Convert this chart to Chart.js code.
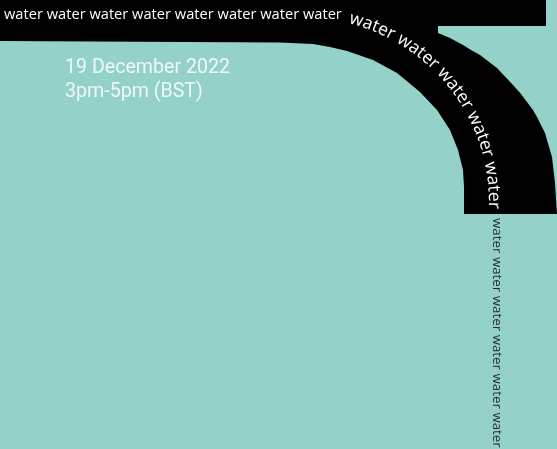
<!DOCTYPE html>
<html>
<head>
<meta charset="utf-8">
<script src="https://cdn.jsdelivr.net/npm/chart.js@4.4.0/dist/chart.umd.min.js"></script>
<style>
html, body { margin: 0; padding: 0; background: #94d2c9; overflow: hidden; }
#wrap { width: 557px; height: 449px; position: relative; }
</style>
</head>
<body>
<div id="wrap"><canvas id="poster"></canvas></div>
<script>
// outline of the black band (x right, y down)
const bandX = [0, 546, 546, 438, 438, 450, 463, 471, 480, 497, 513, 521, 527, 533, 537, 545, 552, 555, 557,
               464, 464, 463, 458, 450, 437, 420, 397, 373, 347, 330, 313, 280, 0];
const bandY = [0, 0, 26, 26, 33, 38, 45, 50, 55, 68, 85, 94, 102, 110, 117, 133, 157, 183, 214,
               214, 187, 170, 150, 130, 110, 92, 73, 60, 51, 47, 44, 42.5, 41];

const topWords = "water water water water water water water water";
const curveWords = ["water", "water", "water", "water", "water"];
const sideWords = "water water water water water water";
const dateLines = ["19 December 2022", "3pm-5pm (BST)"];

const points = bandX.map((x, i) => ({ x: x, y: bandY[i] }));

const textPlugin = {
    id: "posterText",
    afterDatasetsDraw(chart) {
        const ctx = chart.ctx;
        const px = v => chart.scales.x.getPixelForValue(v);
        const py = v => chart.scales.y.getPixelForValue(v);
        ctx.save();

        // straight text on the top bar
        ctx.fillStyle = "#ffffff";
        ctx.textBaseline = "alphabetic";
        ctx.font = '15px "Open Sans"';
        let w = ctx.measureText(topWords).width;
        ctx.font = (15 * 338 / w).toFixed(2) + 'px "Open Sans"';
        ctx.fillText(topWords, px(4), py(18.5));

        // text following the curve
        const cx = px(305), cy = py(202), r = 184;
        ctx.font = '17.5px "Open Sans"';
        const wordW = ctx.measureText("water").width;
        const pitch = 16 * Math.PI / 180;
        const a0 = 20.9 * Math.PI / 180;
        ctx.textAlign = "center";
        curveWords.forEach((word, k) => {
            let a = a0 + k * pitch - (wordW / 2) / r;
            for (const ch of word) {
                const cw = ctx.measureText(ch).width;
                const am = a + (cw / 2) / r;
                ctx.save();
                ctx.translate(cx + r * Math.sin(am), cy - r * Math.cos(am));
                ctx.rotate(am);
                ctx.fillText(ch, 0, 0);
                ctx.restore();
                a += cw / r;
            }
        });

        // vertical text on the right
        ctx.textAlign = "left";
        ctx.fillStyle = "#2b2b2b";
        ctx.font = '15px "Open Sans"';
        w = ctx.measureText(sideWords).width;
        ctx.font = (15 * 230 / w).toFixed(2) + 'px "Open Sans"';
        ctx.save();
        ctx.translate(px(493), py(218));
        ctx.rotate(Math.PI / 2);
        ctx.fillText(sideWords, 0, 0);
        ctx.restore();

        // date lines
        ctx.fillStyle = "#eef9f6";
        ctx.font = '21px Roboto';
        const dw = ctx.measureText(dateLines[0]).width;
        const sx = 165 / dw;
        [73, 97].forEach((y, i) => {
            ctx.save();
            ctx.translate(px(65), py(y));
            ctx.scale(sx, 1);
            ctx.fillText(dateLines[i], 0, 0);
            ctx.restore();
        });

        ctx.restore();
    }
};

new Chart(document.getElementById("poster"), {
    type: "scatter",
    data: {
        datasets: [{
            data: points,
            showLine: true,
            fill: "shape",
            backgroundColor: "#000000",
            borderColor: "#000000",
            borderWidth: 0,
            pointRadius: 0,
            tension: 0
        }]
    },
    options: {
        responsive: true,
        maintainAspectRatio: false,
        animation: false,
        events: [],
        layout: { padding: 0 },
        plugins: { legend: { display: false }, tooltip: { enabled: false } },
        scales: {
            x: { type: "linear", min: 0, max: 557, display: false },
            y: { type: "linear", min: 0, max: 449, reverse: true, display: false }
        }
    },
    plugins: [textPlugin]
});
</script>
</body>
</html>
